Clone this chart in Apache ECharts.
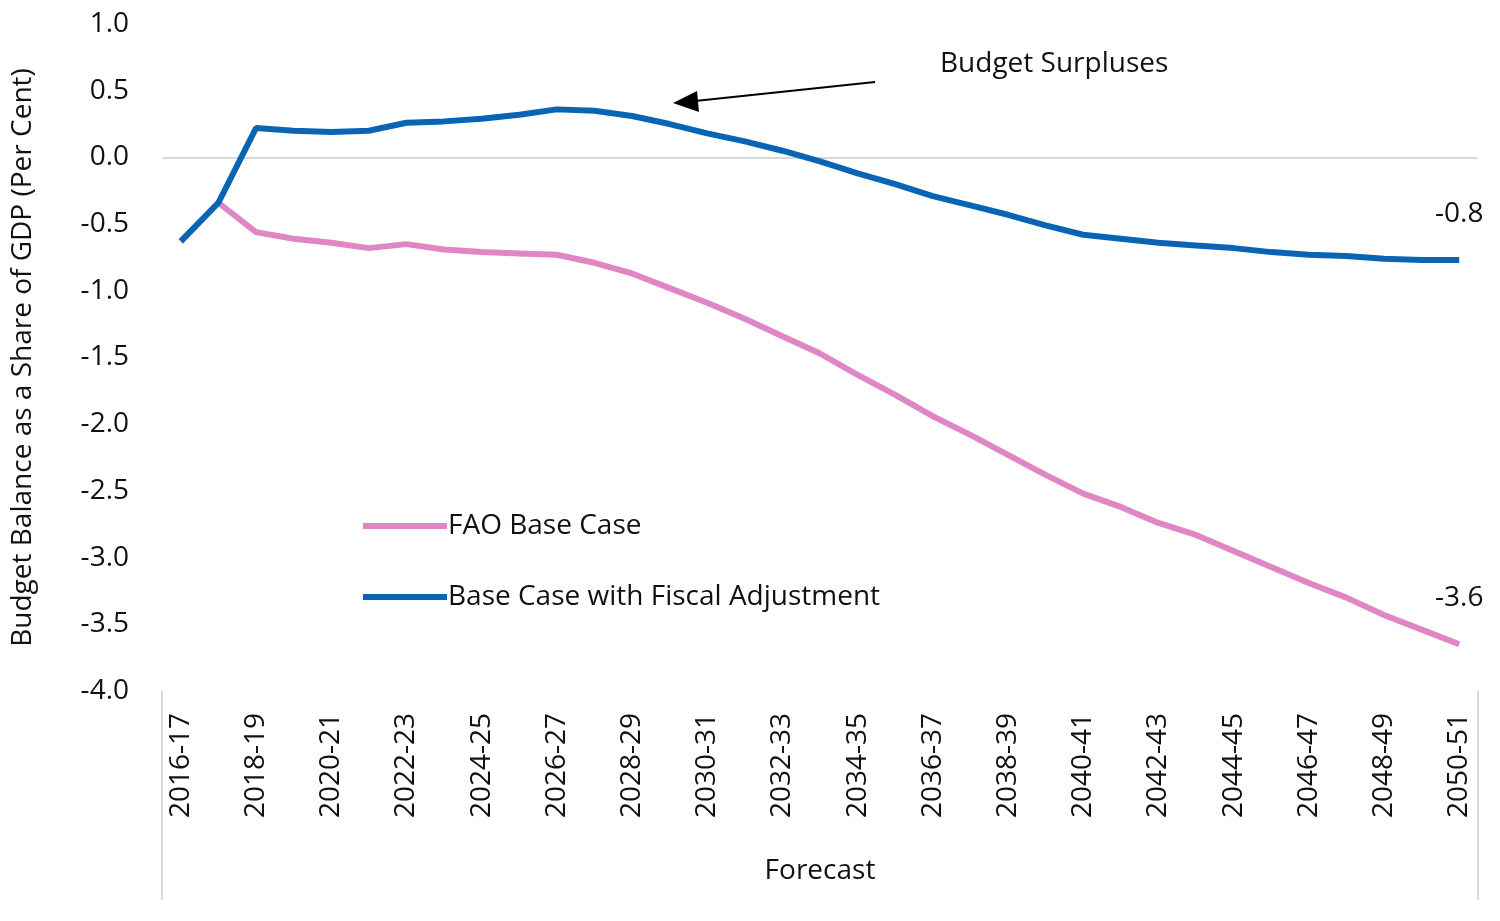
<!DOCTYPE html><html><head><meta charset="utf-8">
<script src="https://cdn.jsdelivr.net/npm/echarts@6/dist/echarts.min.js"></script>
<style>html,body{margin:0;background:#fff}#c{width:1500px;height:921px}</style></head><body><div id="c"></div>
<script>
const categories=[];for(let y=2016;y<=2050;y++)categories.push(y+'-'+String((y+1)%100).padStart(2,'0'));
const fiscal=[-0.63,-0.34,0.22,0.2,0.19,0.2,0.26,0.27,0.29,0.32,0.36,0.35,0.31,0.25,0.18,0.12,0.05,-0.03,-0.12,-0.2,-0.29,-0.36,-0.43,-0.51,-0.58,-0.61,-0.64,-0.66,-0.68,-0.71,-0.73,-0.74,-0.76,-0.77,-0.77];
const base=[-0.63,-0.34,-0.56,-0.61,-0.64,-0.68,-0.65,-0.69,-0.71,-0.72,-0.73,-0.79,-0.87,-0.98,-1.09,-1.21,-1.34,-1.47,-1.63,-1.78,-1.94,-2.08,-2.23,-2.38,-2.52,-2.62,-2.74,-2.83,-2.95,-3.07,-3.19,-3.3,-3.43,-3.54,-3.65];
const endLabels=['-0.8','-3.6'];
const F='Open Sans';
const FS=28;
const last=categories.length-1;
const endMark=(arr,txt)=>({symbol:'none',silent:true,
  label:{show:true,position:'top',distance:26,offset:[0,-6],fontSize:FS,color:'#111',fontFamily:F,formatter:txt},
  data:[{coord:[last,arr[last]],symbolSize:1,symbol:'circle',itemStyle:{color:'transparent'}}]});
const chart=echarts.init(document.getElementById('c'));
chart.setOption({
 textStyle:{fontFamily:F},
 grid:{left:162,right:22,top:24,bottom:230},
 legend:{orient:'vertical',left:358,top:507,itemGap:43,itemWidth:84,itemHeight:6,
  textStyle:{fontSize:FS,color:'#111',fontFamily:F,padding:[0,0,0,-4]},icon:'rect',
  data:['FAO Base Case','Base Case with Fiscal Adjustment']},
 xAxis:{type:'category',data:categories,boundaryGap:true,name:'Forecast',nameLocation:'middle',nameGap:166,
  nameTextStyle:{fontSize:FS,color:'#111',fontFamily:F},
  axisLine:{show:false},axisTick:{show:false},
  axisLabel:{rotate:90,interval:1,fontSize:FS,color:'#111',margin:22,fontFamily:F}},
 yAxis:{type:'value',min:-4,max:1,interval:0.5,splitLine:{show:false},
  name:'Budget Balance as a Share of GDP (Per Cent)',nameLocation:'middle',nameGap:125,
  nameTextStyle:{fontSize:FS,color:'#111',fontFamily:F},
  axisLabel:{fontSize:FS,color:'#111',margin:33,formatter:v=>v.toFixed(1),fontFamily:F}},
 series:[
  {name:'FAO Base Case',type:'line',data:base,symbol:'none',
   lineStyle:{color:'#e086c4',width:6},itemStyle:{color:'#e086c4'},
   markPoint:endMark(base,endLabels[1])},
  {name:'Base Case with Fiscal Adjustment',type:'line',data:fiscal,symbol:'none',
   lineStyle:{color:'#0a64b4',width:6},itemStyle:{color:'#0a64b4'},
   markPoint:endMark(fiscal,endLabels[0]),
   markLine:{silent:true,symbol:'none',label:{show:false},lineStyle:{color:'#d9d9d9',width:2,type:'solid'},data:[{yAxis:0}],z:1}}
 ],
 graphic:[
  {type:'line',shape:{x1:162,y1:691,x2:162,y2:900},style:{stroke:'#d9d9d9',lineWidth:2}},
  {type:'line',shape:{x1:1478,y1:691,x2:1478,y2:900},style:{stroke:'#d9d9d9',lineWidth:2}},
  {type:'line',shape:{x1:875,y1:82,x2:695,y2:101},style:{stroke:'#000',lineWidth:2}},
  {type:'polygon',shape:{points:[[673,103],[697,91],[699,112]]},style:{fill:'#000'}},
  {type:'text',left:940,top:50,style:{text:'Budget Surpluses',fontSize:FS,fill:'#111',fontFamily:F}}
 ]
});
</script></body></html>
